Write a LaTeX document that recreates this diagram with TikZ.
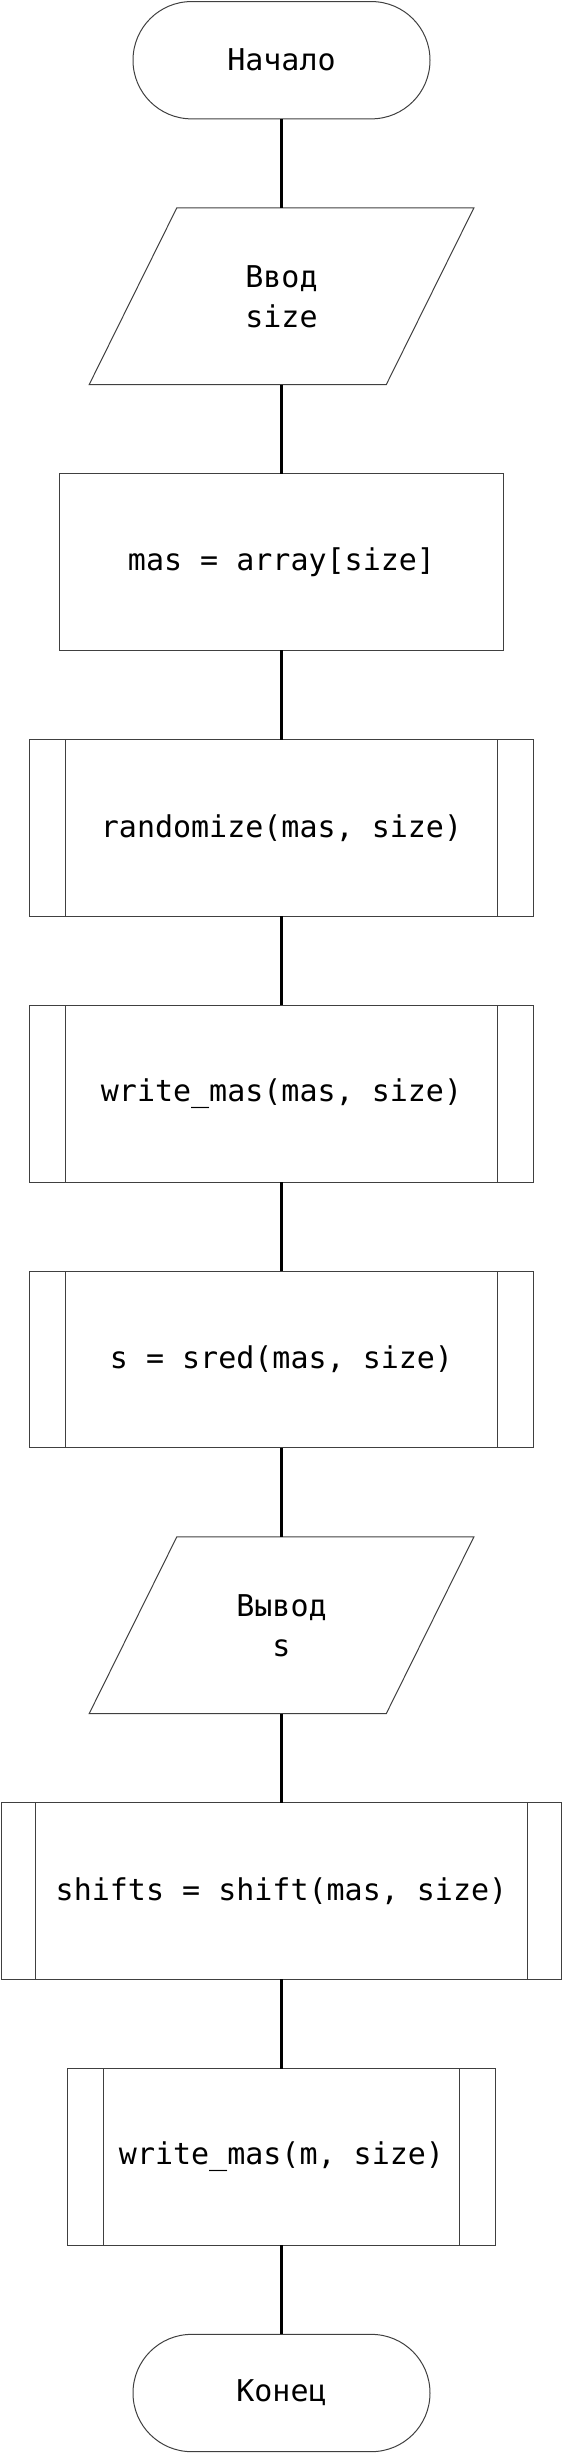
\documentclass[tikz,border=0pt]{standalone}
\usepackage{fontspec}
\setmonofont{DejaVu Sans Mono}
\usetikzlibrary{positioning}

\tikzset{
  block/.style={draw=black!75, line width=1pt, minimum height=176.7pt, inner sep=0pt, outer sep=0pt,
    align=center, font=\ttfamily\fontsize{30}{40}\selectfont},
  term/.style={block, minimum width=297pt, minimum height=117.3pt, rounded corners=58.6pt},
  proc/.style={block, minimum width=#1},
  io/.style={block, draw=none, minimum width=384.7pt,
    append after command={\pgfextra{\draw[black!75, line width=1pt]
      ([xshift=87.6pt]\tikzlastnode.north west) -- (\tikzlastnode.north east)
      -- ([xshift=-87.6pt]\tikzlastnode.south east) -- (\tikzlastnode.south west) -- cycle;}}},
  sub/.style 2 args={block, minimum width=#1,
    append after command={\pgfextra{\draw[black!75, line width=1pt]
      ([xshift=#2]\tikzlastnode.north west) -- ([xshift=#2]\tikzlastnode.south west)
      ([xshift=-#2]\tikzlastnode.north east) -- ([xshift=-#2]\tikzlastnode.south east);}}},
  flow/.style={line width=3pt},
}

\begin{document}
\begin{tikzpicture}[node distance=89.1pt]
        \useasboundingbox (0,0) rectangle (563pt,-2453pt);

        \node[term] (start) at (281.5pt,-60.2pt) {Начало};
        \node[io] (inp) [below=of start] {Ввод\\size};
        \node[proc=444.2pt] (arr) [below=of inp] {mas = array[size]};
        \node[sub={503.6pt}{36pt}] (rnd) [below=of arr] {randomize(mas, size)};
        \node[sub={503.6pt}{36pt}] (wr1) [below=of rnd] {write\_mas(mas, size)};
        \node[sub={503.6pt}{36pt}] (sred) [below=of wr1] {s = sred(mas, size)};
        \node[io] (outp) [below=of sred] {Вывод\\s};
        \node[sub={559.9pt}{34.4pt}] (shf) [below=of outp] {shifts = shift(mas, size)};
        \node[sub={428.5pt}{36pt}] (wr2) [below=of shf] {write\_mas(m, size)};
        \node[term] (stop) [below=of wr2] {Конец};

        \path[flow]
        (start) edge (inp)
        (inp) edge (arr)
        (arr) edge (rnd)
        (rnd) edge (wr1)
        (wr1) edge (sred)
        (sred) edge (outp)
        (outp) edge (shf)
        (shf) edge (wr2)
        (wr2) edge (stop);
    \end{tikzpicture}
\end{document}
